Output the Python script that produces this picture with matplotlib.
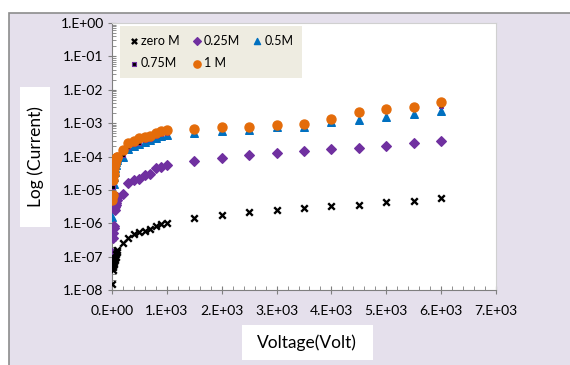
import matplotlib
matplotlib.use('Agg')
import matplotlib.pyplot as plt
from matplotlib.patches import Rectangle
from matplotlib.ticker import FuncFormatter, MultipleLocator, LogLocator, NullFormatter

plt.rcParams['font.family'] = ['Lato', 'DejaVu Sans']

# voltage (V)
volt = [0, 10, 20, 30, 40, 50, 60, 70, 80, 90, 100,
        200, 300, 400, 500, 600, 700, 800, 900, 1000,
        1500, 2000, 2500, 3000, 3500, 4000, 4500, 5000, 5500, 6000]

# current (A) for each concentration
i_zero = [1.5e-8, 4e-8, 5e-8, 6e-8, 7e-8, 8e-8, 9e-8, 1.0e-7, 1.2e-7, 1.4e-7, 1.6e-7,
          2.6e-7, 3.7e-7, 4.7e-7, 5.3e-7, 5.9e-7, 6.6e-7, 8e-7, 9.5e-7, 1.05e-6,
          1.4e-6, 1.8e-6, 2.1e-6, 2.5e-6, 2.8e-6, 3.2e-6, 3.5e-6, 4.3e-6, 4.8e-6, 5.6e-6]
i_025 = [1.3e-7, 3.5e-7, 5e-7, 7e-7, 8.5e-7, 2.5e-6, 3e-6, 3.5e-6, 4e-6, 5e-6, 6e-6,
         7.4e-6, 1.65e-5, 2e-5, 2.1e-5, 2.7e-5, 3e-5, 4.5e-5, 5e-5, 5.6e-5,
         7.1e-5, 8.9e-5, 1.12e-4, 1.3e-4, 1.47e-4, 1.65e-4, 1.85e-4, 2.0e-4, 2.6e-4, 2.9e-4]
i_05 = [1.5e-6, 4e-6, 8e-6, 1.5e-5, 2.5e-5, 3.5e-5, 4.5e-5, 5.5e-5, 7e-5, 8e-5, 9e-5,
        1.0e-4, 1.7e-4, 2.0e-4, 2.3e-4, 2.8e-4, 3.1e-4, 3.6e-4, 4.2e-4, 4.5e-4,
        5.2e-4, 5.9e-4, 6.3e-4, 7.4e-4, 7.9e-4, 1.07e-3, 1.25e-3, 1.5e-3, 1.9e-3, 2.3e-3]
i_075 = [3e-6, 6e-6, 1.2e-5, 1.8e-5, 3e-5, 4e-5, 5e-5, 6e-5, 7.5e-5, 8.5e-5, 9.5e-5,
         1.1e-4, 1.9e-4, 2.3e-4, 2.6e-4, 3.1e-4, 3.4e-4, 4.0e-4, 4.6e-4, 5.0e-4,
         5.8e-4, 6.5e-4, 7.0e-4, 8.0e-4, 8.6e-4, 1.2e-3, 1.9e-3, 2.3e-3, 2.8e-3, 3.2e-3]
i_1 = [5e-6, 7e-6, 2e-5, 3e-5, 4.5e-5, 6e-5, 7e-5, 8e-5, 9e-5, 9.5e-5, 1.0e-4,
       1.6e-4, 2.5e-4, 2.9e-4, 3.5e-4, 3.9e-4, 4.2e-4, 5e-4, 5.8e-4, 6.3e-4,
       6.9e-4, 7.4e-4, 7.7e-4, 8.5e-4, 9.5e-4, 1.35e-3, 2.2e-3, 2.7e-3, 3.1e-3, 4.4e-3]

W, H = 570, 365
fig = plt.figure(figsize=(W / 100, H / 100), dpi=100)
fig.patch.set_facecolor('white')


def px_rect(x0, y0, x1, y1, **kw):
    # rectangle given in pixel coords (top-left origin)
    return Rectangle((x0 / W, 1 - y1 / H), (x1 - x0) / W, (y1 - y0) / H,
                     transform=fig.transFigure, **kw)


# chart area background with gray border
fig.add_artist(px_rect(9, 13, 575, 370, facecolor='#e5e0ec', edgecolor='#8c8c8c',
                       linewidth=1.2, zorder=0))
# white boxes behind axis titles
fig.add_artist(px_rect(20, 87, 50, 227, facecolor='white', edgecolor='none', zorder=1))
fig.add_artist(px_rect(242, 325, 373, 360, facecolor='white', edgecolor='none', zorder=1))

ax = fig.add_axes([112 / W, 1 - 290 / H, 384 / W, 267 / H])
ax.set_facecolor('white')

ax.scatter(volt, i_05, marker='^', s=30, color='#0070c0', zorder=3, label='0.5M')
ax.scatter(volt, i_075, marker='s', s=10, color='black', edgecolors='#7030a0', linewidths=0.8,
           zorder=3, label='0.75M')
ax.scatter(volt, i_1, marker='o', s=42, color='#e46c0a', zorder=4, label='1 M')
ax.scatter(volt, i_025, marker='D', s=24, color='#7030a0', zorder=3, label='0.25M')
ax.scatter(volt, i_zero, marker='x', s=22, color='black', linewidths=1.7, zorder=3, label='zero M')

ax.set_yscale('log')
ax.set_ylim(1e-8, 1)
ax.set_xlim(0, 7000)
ax.xaxis.set_major_locator(MultipleLocator(1000))
ax.xaxis.set_minor_locator(MultipleLocator(200))
ax.yaxis.set_major_locator(LogLocator(base=10, numticks=20))
ax.yaxis.set_minor_locator(LogLocator(base=10, subs=range(2, 10), numticks=20))
ax.yaxis.set_minor_formatter(NullFormatter())


def sci_fmt(v, pos):
    if v == 0:
        return '0.E+00'
    s = '%.0E' % v
    mant, exp = s.split('E')
    return mant + '.E' + exp


ax.xaxis.set_major_formatter(FuncFormatter(sci_fmt))
ax.yaxis.set_major_formatter(FuncFormatter(sci_fmt))
ax.tick_params(which='major', direction='inout', length=6, width=0.8, color='#7f7f7f',
               labelsize=10, pad=3)
ax.tick_params(which='minor', direction='in', length=3, width=0.6, color='#7f7f7f')
ax.tick_params(axis='x', which='major', pad=8)

for side in ['left', 'bottom']:
    ax.spines[side].set_color('#7f7f7f')
for side in ['top', 'right']:
    ax.spines[side].set_color('#d0d0d0')

# axis titles
fig.text(36 / W, 1 - 157 / H, 'Log (Current)', rotation=90, ha='center', va='center',
         fontsize=12.5, zorder=2)
fig.text(307 / W, 1 - 343 / H, 'Voltage(Volt)', ha='center', va='center',
         fontsize=12.5, zorder=2)

h, l = ax.get_legend_handles_labels()
order = [4, 1, 3, 2, 0]
leg = ax.legend([h[k] for k in order], [l[k] for k in order], ncol=3,
                loc='upper left', bbox_to_anchor=(8 / 384, 1 - 3 / 267), borderaxespad=0,
                fontsize=9, frameon=True, fancybox=False, handletextpad=0.15,
                columnspacing=1.0, handlelength=0.8, borderpad=0.7, labelspacing=0.85,
                markerscale=0.8)
leg.get_frame().set_facecolor('#eeece1')
leg.get_frame().set_edgecolor('none')
leg.get_frame().set_alpha(1)

fig.savefig('out.png', dpi=100, facecolor=fig.get_facecolor())
